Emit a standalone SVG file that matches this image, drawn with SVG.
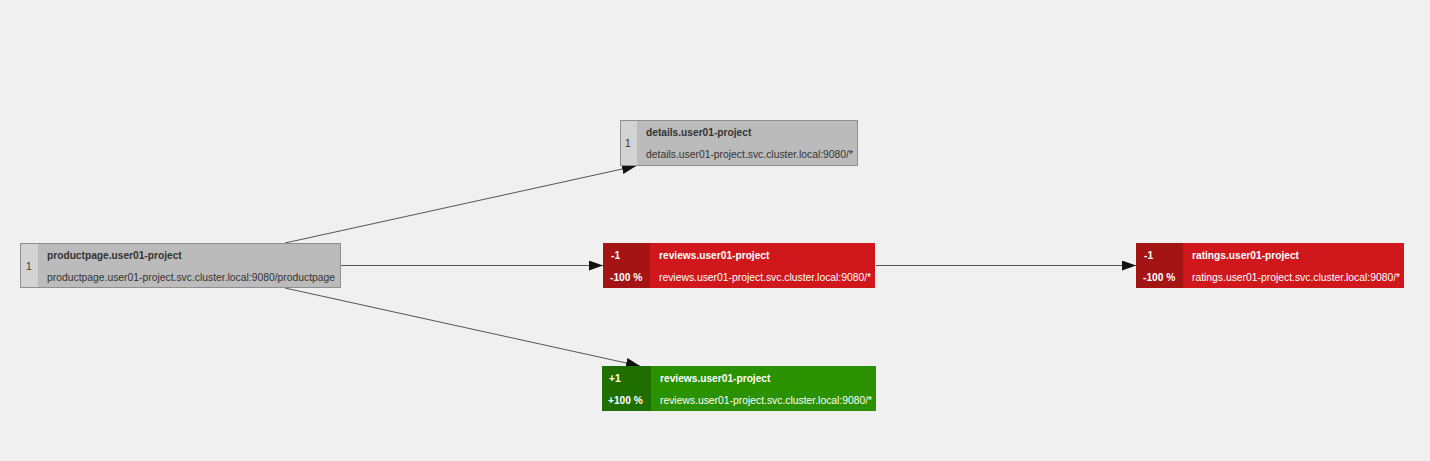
<svg xmlns="http://www.w3.org/2000/svg" width="1430" height="461" viewBox="0 0 1430 461">
<style>
.t{font-family:"Liberation Sans",Arial,sans-serif;font-size:10.35px}
.b{font-weight:bold;font-size:10.2px}
.g .body{fill:#bbbbbb;stroke:#8f8f8f;stroke-width:1}
.g .col{fill:#d3d3d3}
.g text{fill:#333333}
.r .body{fill:#d0171b}
.r .col{fill:#a51414}
.gr .body{fill:#2a9100}
.gr .col{fill:#1f6e00}
.r text,.gr text{fill:#ffffff}
.e{stroke:#555555;stroke-width:1;fill:none;marker-end:url(#ah)}
</style>
<defs>
<marker id="ah" viewBox="0 0 14 10" refX="14" refY="5" markerWidth="14" markerHeight="10" markerUnits="userSpaceOnUse" orient="auto">
<path d="M0,0 L14,5 L0,10 z" fill="#111111"/>
</marker>
</defs>
<rect width="1430" height="461" fill="#f0f0f0"/>
<g id="edges">
<line class="e" x1="285" y1="243" x2="636" y2="166"/>
<line class="e" x1="341" y1="265.5" x2="603" y2="265.5"/>
<line class="e" x1="285" y1="288" x2="640" y2="366"/>
<line class="e" x1="876" y1="265.5" x2="1136" y2="265.5"/>
</g>
<g id="productpage" class="g t">
<rect class="body" x="20.5" y="243.5" width="320" height="44"/>
<rect class="col" x="21" y="244" width="17" height="43"/>
<text x="26" y="270">1</text>
<text class="b" x="47" y="259">productpage.user01-project</text>
<text x="47" y="281">productpage.user01-project.svc.cluster.local:9080/productpage</text>
</g>
<g id="details" class="g t">
<rect class="body" x="620.5" y="120.5" width="237" height="45"/>
<rect class="col" x="621" y="121" width="16" height="44"/>
<text x="625" y="147">1</text>
<text class="b" x="646" y="136">details.user01-project</text>
<text x="646" y="158">details.user01-project.svc.cluster.local:9080/*</text>
</g>
<g id="reviews-v1" class="r t">
<rect class="body" x="603" y="243" width="272" height="45"/>
<rect class="col" x="603" y="243" width="47" height="45"/>
<text class="b" x="611" y="259">-1</text>
<text class="b" x="610" y="281">-100 %</text>
<text class="b" x="659" y="259">reviews.user01-project</text>
<text x="659" y="281">reviews.user01-project.svc.cluster.local:9080/*</text>
</g>
<g id="reviews-v2" class="gr t">
<rect class="body" x="602" y="366" width="274" height="45"/>
<rect class="col" x="602" y="366" width="49" height="45"/>
<text class="b" x="609" y="382">+1</text>
<text class="b" x="608" y="404">+100 %</text>
<text class="b" x="660" y="382">reviews.user01-project</text>
<text x="660" y="404">reviews.user01-project.svc.cluster.local:9080/*</text>
</g>
<g id="ratings" class="r t">
<rect class="body" x="1136" y="243" width="268" height="45"/>
<rect class="col" x="1136" y="243" width="47" height="45"/>
<text class="b" x="1144" y="259">-1</text>
<text class="b" x="1143" y="281">-100 %</text>
<text class="b" x="1192" y="259">ratings.user01-project</text>
<text x="1192" y="281">ratings.user01-project.svc.cluster.local:9080/*</text>
</g>
</svg>
